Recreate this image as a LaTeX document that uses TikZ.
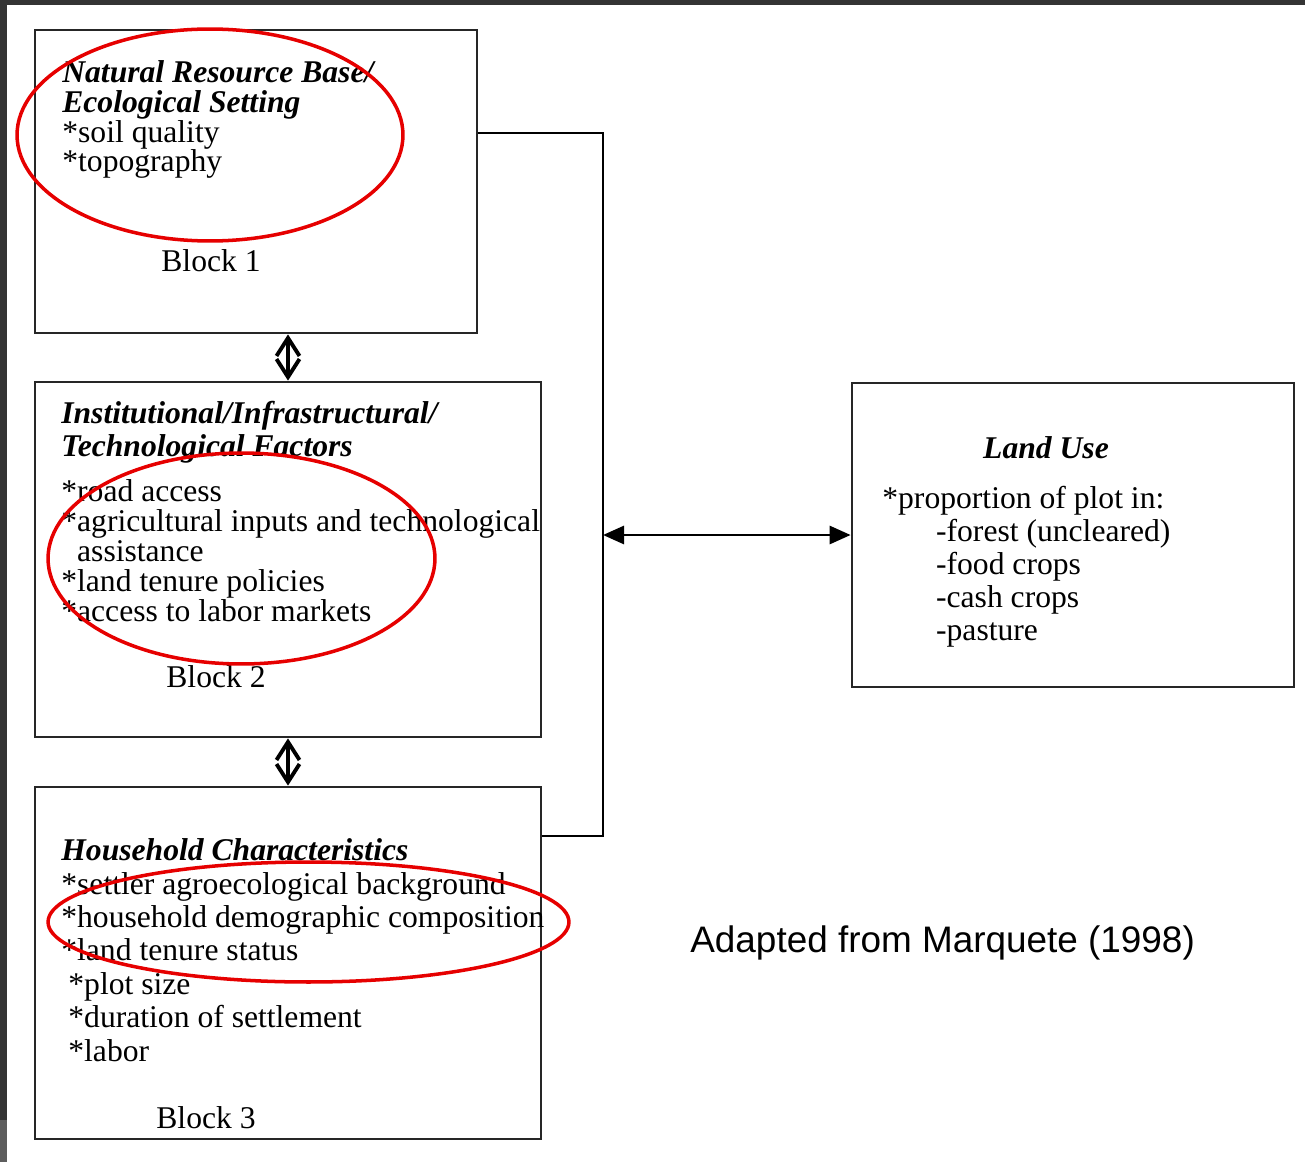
\documentclass[tikz,border=0pt]{standalone}
\usepackage{fontspec}
\setmainfont{Liberation Serif}
\newfontfamily\notefont{Liberation Sans}
\usetikzlibrary{arrows.meta}
\definecolor{scanframe}{HTML}{343434}
\definecolor{markred}{HTML}{E60000}

\begin{document}
\begin{tikzpicture}[x=0.02cm,y=-0.02cm,
  block/.style={draw=black!85,line width=1.6pt,inner sep=0pt},
  txt/.style={anchor=base west,align=left,inner sep=0pt,font=\fontsize{18}{17}\selectfont},
  lbl/.style={anchor=base,inner sep=0pt,font=\fontsize{18}{17}\selectfont},
  ring/.style={markred,line width=2pt},
  updown/.style={line width=2.2pt,{Straight Barb[length=3.6mm,width=4.6mm]}-{Straight Barb[length=3.6mm,width=4.6mm]}},
  both/.style={line width=1.6pt,{Triangle[length=4.2mm,width=3.6mm]}-{Triangle[length=4.2mm,width=3.6mm]}}]
  \useasboundingbox (0,0) rectangle (1305,1162);
  \fill[scanframe] (0,0) rectangle (1305,5);
  \fill[scanframe] (0,0) rectangle (7,1120);
  \fill[scanframe!80!white] (0,1120) rectangle (7,1162);

  \node[block,minimum width=8.84cm,minimum height=6.06cm] (b1) at (256,181.5) {};
  \node[block,minimum width=10.12cm,minimum height=7.1cm] (b2) at (288,559.5) {};
  \node[block,minimum width=10.12cm,minimum height=7.04cm] (b3) at (288,963) {};
  \node[block,minimum width=8.84cm,minimum height=6.08cm] (lu) at (1073,535) {};

  % multi-line texts sit on their last baseline
  \node[txt] (b1t) at (62,172) {\textbf{\textit{Natural Resource Base/}}\\\textbf{\textit{Ecological Setting}}\\*soil quality\\*topography};
  \node[lbl] (b1l) at (211,272) {Block 1};
  \node[txt] (b2t) at (61,621) {\textbf{\textit{Institutional/Infrastructural/}}\\[1.7pt]\textbf{\textit{Technological Factors}}\\[8.5pt]*road access\\*agricultural inputs and technological\\\hspace*{9pt}assistance\\*land tenure policies\\*access to labor markets};
  \node[lbl] (b2l) at (216,687) {Block 2};
  \node[txt,font=\fontsize{18}{19}\selectfont] (b3t) at (61,1061) {\textbf{\textit{Household Characteristics}}\\*settler agroecological background\\*household demographic composition\\*land tenure status\\\hspace*{4pt}*plot size\\\hspace*{4pt}*duration of settlement\\\hspace*{4pt}*labor};
  \node[lbl] (b3l) at (206,1128) {Block 3};
  \node[lbl] (lut) at (1046,458) {\textbf{\textit{Land Use}}};
  \node[txt,font=\fontsize{18}{18.7}\selectfont] (lul) at (882,640) {*proportion of plot in:\\\hspace*{30.6pt}-forest (uncleared)\\\hspace*{30.6pt}-food crops\\\hspace*{30.6pt}-cash crops\\\hspace*{30.6pt}-pasture};

  \coordinate (bustop) at (603,133);
  \coordinate (busbot) at (603,836);
  \draw[line width=1.6pt] (b1.east |- bustop) -- (bustop) -- (busbot) -- (b3.east |- busbot);
  \draw[both] (bustop |- lu.west) -- (lu.west);
  \draw[updown] (b1.south -| b2.north) -- (b2.north);
  \draw[updown] (b2.south) -- (b3.north);

  \node[anchor=base west,inner sep=0pt,font=\notefont\fontsize{21}{21}\selectfont] (src) at (690,952) {Adapted from Marquete (1998)};

  \draw[ring] (210,135) ellipse [x radius=3.86cm,y radius=2.12cm];
  \draw[ring] (241.5,558.5) ellipse [x radius=3.87cm,y radius=2.11cm];
  \draw[ring] (308.5,922) ellipse [x radius=5.21cm,y radius=1.2cm];
\end{tikzpicture}
\end{document}
